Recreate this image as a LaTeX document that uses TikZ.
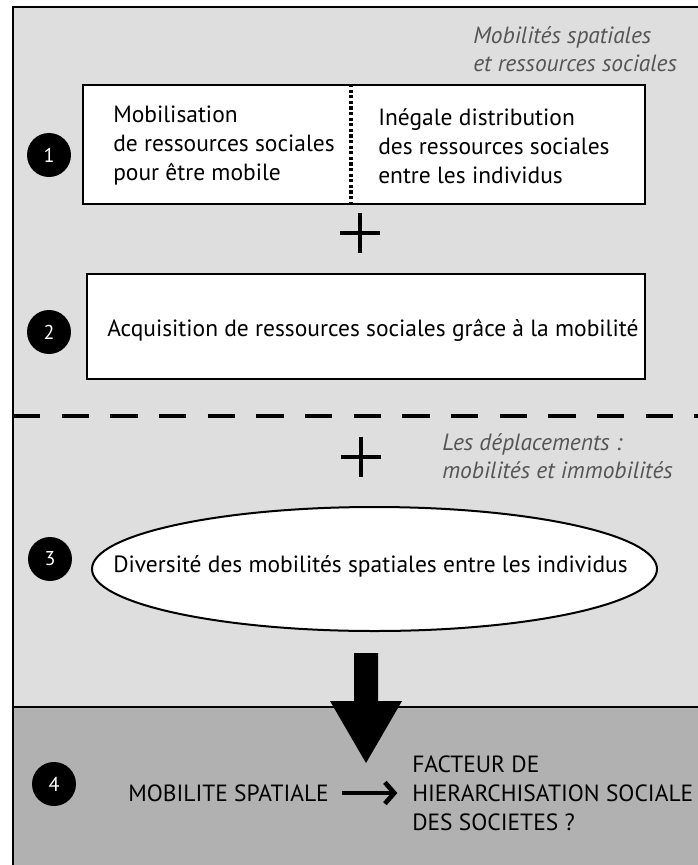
\documentclass[tikz,border=0pt]{standalone}
\usepackage{fontspec}
\setmainfont{PT Sans}
\usetikzlibrary{arrows.meta,shapes.geometric}
\definecolor{lightbg}{HTML}{DEDEDE}
\definecolor{darkbg}{HTML}{B1B1B1}
\definecolor{notegray}{HTML}{555555}
\tikzset{
  num/.style={circle, fill=black, text=white, minimum size=33pt, inner sep=0pt, font=\fontsize{15}{17}\selectfont},
  box/.style={draw=black, line width=1.5pt, fill=white},
  txt/.style={align=left, anchor=west, inner sep=0pt, font=\fontsize{17.6}{21.75}\selectfont},
  note/.style={align=left, anchor=west, inner sep=0pt, text=notegray, font=\fontsize{17.6}{21}\selectfont\itshape},
  plus/.style={line width=2.5pt},
}
\begin{document}
\begin{tikzpicture}[x=0.75pt, y=-0.75pt]
  \useasboundingbox (0,0) rectangle (698,865);

  % Background panels
  \fill[lightbg] (13,7) rectangle (698,707);
  \fill[darkbg] (13,707) rectangle (698,865);
  \draw[line width=1.5pt] (13,865) -- (13,7) -- (698,7);
  \draw[line width=1.5pt] (13,707) -- (698,707);

  % Dashed separator
  \draw[line width=3pt, dash pattern=on 20.5pt off 16pt] (13,416) -- (698,416);

  % Notes
  \node[note] (title) at (473,49) {Mobilités spatiales\\et ressources sociales};
  \node[note] (moves) at (442,456.5) {Les déplacements :\\mobilités et immobilités};

  % Block 1
  \node[num] (n1) at (49,155) {1};
  \node[box, minimum width=421.5pt, minimum height=89.25pt] (b1) at (364,144.5) {};
  \coordinate (divx) at (351,0);
  \draw[line width=2.6pt, dash pattern=on 2.4pt off 1.8pt] (b1.north -| divx) -- (b1.south -| divx);
  \node[txt] (b1l) at (113,146) {Mobilisation\\de ressources sociales\\pour être mobile};
  \node[txt] (b1r) at (378,146) {Inégale distribution\\des ressources sociales\\entre les individus};

  % First plus
  \coordinate (plus1) at (360,233);
  \draw[plus] (plus1) ++(-20,0) -- ++(40,0) (plus1) ++(0,-20) -- ++(0,40);

  % Block 2
  \node[num] (n2) at (49,332) {2};
  \node[box, minimum width=418.5pt, minimum height=78.75pt] (b2) at (366,326.5) {};
  \node[txt] (b2t) at (107,330) {Acquisition de ressources sociales grâce à la mobilité};

  % Second plus
  \coordinate (plus2) at (361,457);
  \draw[plus] (plus2) ++(-20,0) -- ++(40,0) (plus2) ++(0,-20) -- ++(0,40);

  % Block 3
  \node[num] (n3) at (50,559) {3};
  \node[box, ellipse, inner sep=0pt, minimum width=423.75pt, minimum height=93pt] (e3) at (374.5,569) {};
  \node[txt] (e3t) at (113,566) {Diversité des mobilités spatiales entre les individus};

  % Big arrow
  \coordinate (arrtop) at (366,653);
  \fill (arrtop) ++(-12,0) -- ++(24,0) -- ++(0,48) -- ++(24,0) -- ++(-36,62) -- ++(-36,-62) -- ++(24,0) -- cycle;

  % Block 4
  \node[num] (n4) at (54,784) {4};
  \node[txt] (mob) at (128,793) {MOBILITE SPATIALE};
  \node[txt] (fact) at (412,793) {FACTEUR DE\\HIERARCHISATION SOCIALE\\DES SOCIETES ?};
  \draw[line width=3.5pt, -{Straight Barb[length=7pt, width=16pt]}, shorten <=10pt, shorten >=11pt] (mob.east) -- (fact.west);
\end{tikzpicture}
\end{document}
